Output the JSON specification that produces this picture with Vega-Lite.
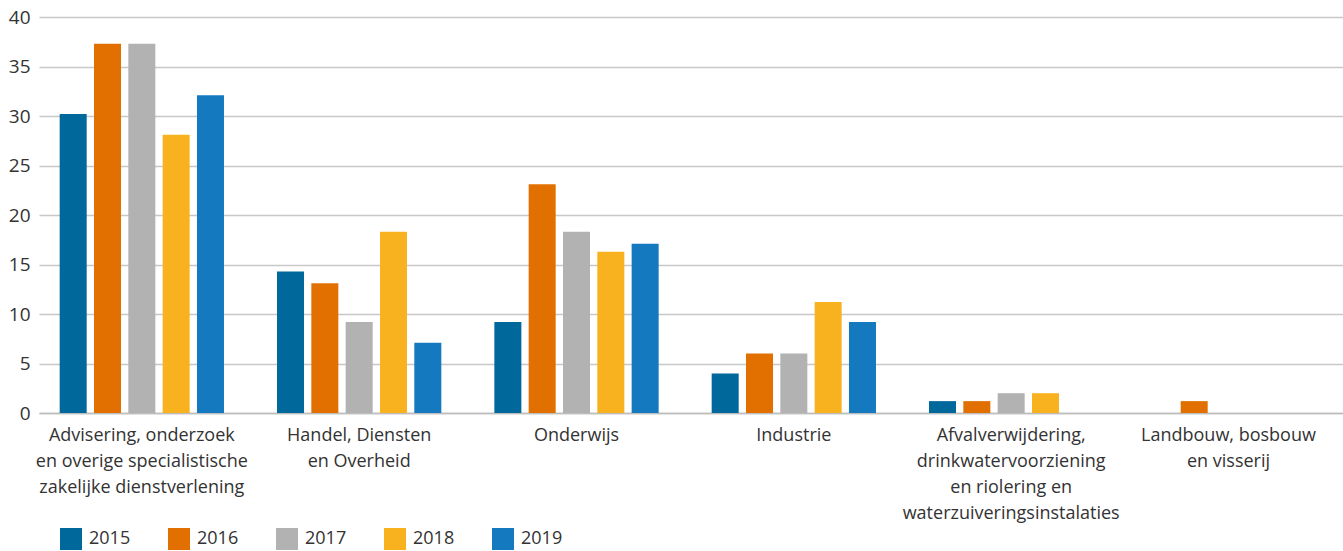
{
  "$schema": "https://vega.github.io/schema/vega-lite/v6.json",
  "width": 1304,
  "height": 396,
  "autosize": {"type": "none"},
  "padding": {"left": 39, "top": 17, "right": 0, "bottom": 138},
  "background": "white",
  "config": {
    "font": "Open Sans",
    "view": {"stroke": null},
    "axis": {"labelFont": "Open Sans", "labelColor": "#333333", "titleFont": "Open Sans"},
    "legend": {"labelFont": "Open Sans", "labelColor": "#333333"}
  },
  "data": {
    "values": [
      {"sector": "Advisering, onderzoek|en overige specialistische|zakelijke dienstverlening", "jaar": "2015", "waarde": 30.2},
      {"sector": "Advisering, onderzoek|en overige specialistische|zakelijke dienstverlening", "jaar": "2016", "waarde": 37.3},
      {"sector": "Advisering, onderzoek|en overige specialistische|zakelijke dienstverlening", "jaar": "2017", "waarde": 37.3},
      {"sector": "Advisering, onderzoek|en overige specialistische|zakelijke dienstverlening", "jaar": "2018", "waarde": 28.1},
      {"sector": "Advisering, onderzoek|en overige specialistische|zakelijke dienstverlening", "jaar": "2019", "waarde": 32.1},
      {"sector": "Handel, Diensten|en Overheid", "jaar": "2015", "waarde": 14.3},
      {"sector": "Handel, Diensten|en Overheid", "jaar": "2016", "waarde": 13.1},
      {"sector": "Handel, Diensten|en Overheid", "jaar": "2017", "waarde": 9.2},
      {"sector": "Handel, Diensten|en Overheid", "jaar": "2018", "waarde": 18.3},
      {"sector": "Handel, Diensten|en Overheid", "jaar": "2019", "waarde": 7.1},
      {"sector": "Onderwijs", "jaar": "2015", "waarde": 9.2},
      {"sector": "Onderwijs", "jaar": "2016", "waarde": 23.1},
      {"sector": "Onderwijs", "jaar": "2017", "waarde": 18.3},
      {"sector": "Onderwijs", "jaar": "2018", "waarde": 16.3},
      {"sector": "Onderwijs", "jaar": "2019", "waarde": 17.1},
      {"sector": "Industrie", "jaar": "2015", "waarde": 4.0},
      {"sector": "Industrie", "jaar": "2016", "waarde": 6.0},
      {"sector": "Industrie", "jaar": "2017", "waarde": 6.0},
      {"sector": "Industrie", "jaar": "2018", "waarde": 11.2},
      {"sector": "Industrie", "jaar": "2019", "waarde": 9.2},
      {"sector": "Afvalverwijdering,|drinkwatervoorziening|en riolering en|waterzuiveringsinstalaties", "jaar": "2015", "waarde": 1.2},
      {"sector": "Afvalverwijdering,|drinkwatervoorziening|en riolering en|waterzuiveringsinstalaties", "jaar": "2016", "waarde": 1.2},
      {"sector": "Afvalverwijdering,|drinkwatervoorziening|en riolering en|waterzuiveringsinstalaties", "jaar": "2017", "waarde": 2.0},
      {"sector": "Afvalverwijdering,|drinkwatervoorziening|en riolering en|waterzuiveringsinstalaties", "jaar": "2018", "waarde": 2.0},
      {"sector": "Landbouw, bosbouw|en visserij", "jaar": "2016", "waarde": 1.2}
    ]
  },
  "mark": {"type": "bar"},
  "encoding": {
    "x": {
      "field": "sector",
      "type": "nominal",
      "sort": null,
      "title": null,
      "scale": {"paddingInner": 0.244, "paddingOuter": 0.122, "align": 0.39},
      "axis": {
        "labelAngle": 0,
        "labelExpr": "split(datum.label, '|')",
        "labelFontSize": 18,
        "labelLineHeight": 26,
        "labelPadding": 13,
        "labelBaseline": "top",
        "labelLimit": 0,
        "ticks": false,
        "domainColor": "#bdbdbd",
        "domainWidth": 1.5
      }
    },
    "xOffset": {
      "field": "jaar",
      "type": "nominal",
      "scale": {"paddingInner": 0.213, "paddingOuter": 0}
    },
    "y": {
      "field": "waarde",
      "type": "quantitative",
      "title": null,
      "scale": {"domain": [0, 40], "nice": false},
      "axis": {
        "values": [0, 5, 10, 15, 20, 25, 30, 35, 40],
        "labelFontSize": 19,
        "labelPadding": 9,
        "ticks": false,
        "domain": false,
        "gridColor": "#c8c8c8",
        "gridWidth": 1.5
      }
    },
    "color": {
      "field": "jaar",
      "type": "nominal",
      "title": null,
      "scale": {
        "domain": ["2015", "2016", "2017", "2018", "2019"],
        "range": ["#01689b", "#e17000", "#b2b2b2", "#f9b21f", "#1479bf"]
      },
      "legend": {
        "orient": "none",
        "legendX": 21,
        "legendY": 511,
        "direction": "horizontal",
        "symbolType": "square",
        "symbolSize": 484,
        "symbolStrokeWidth": 0,
        "labelFontSize": 18,
        "labelOffset": 7,
        "columnPadding": 37
      }
    }
  }
}
